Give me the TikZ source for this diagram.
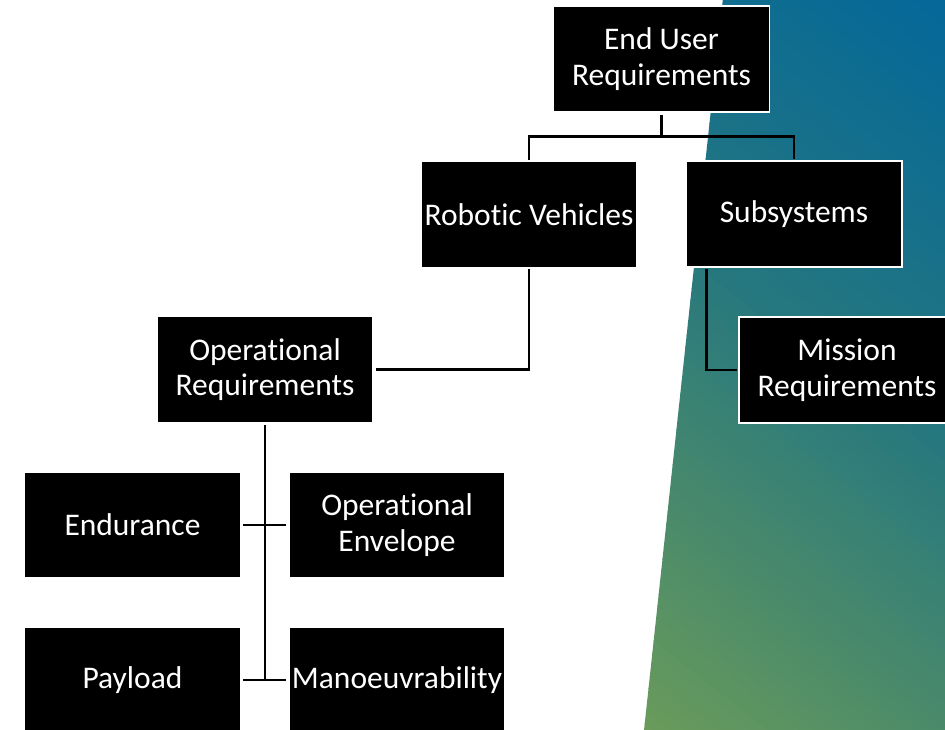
\documentclass[tikz,border=0pt]{standalone}
\usepackage{fontspec}
\setmainfont{Carlito}[Ligatures=NoCommon]
\definecolor{gblue}{HTML}{03679A}
\definecolor{gteal}{HTML}{27787E}
\definecolor{ggreen}{HTML}{6A9B5A}
\tikzset{
  box/.style={draw=white, line width=1.5pt, fill=black, text=white,
    minimum width=216pt, minimum height=106pt, inner sep=0pt, align=center,
    font=\fontsize{31.5}{35.5}\selectfont},
  conn/.style={draw=black, line width=2.8pt}
}
\begin{document}
\begin{tikzpicture}[x=1pt,y=-1pt]
\useasboundingbox (0,0) rectangle (945,729);
\clip (0,0) rectangle (945,729);
\fill[white] (0,0) rectangle (945,729);
% gradient background polygon
\begin{scope}
  \clip (723,-2) -- (950,-2) -- (950,735) -- (643.5,735) -- cycle;
  \foreach \i in {0,...,79}{
    \pgfmathsetmacro\ta{-600+\i*10}
    \pgfmathsetmacro\tb{\ta+11}
    \pgfmathsetmacro\tm{\ta+5}
    \pgfmathparse{\tm<-224 ? 1 : 0}
    \ifnum\pgfmathresult=1
      \pgfmathsetmacro\f{max(0,min(100,(\tm+586)/362*100))}
      \colorlet{bandc}{gteal!\f!gblue}
    \else
      \pgfmathsetmacro\f{max(0,min(100,(\tm+224)/401*100))}
      \colorlet{bandc}{ggreen!\f!gteal}
    \fi
    \fill[bandc] ({\ta*(-0.62)+400*0.79},{\ta*0.79+400*0.62})
      -- ({\ta*(-0.62)+1300*0.79},{\ta*0.79+1300*0.62})
      -- ({\tb*(-0.62)+1300*0.79},{\tb*0.79+1300*0.62})
      -- ({\tb*(-0.62)+400*0.79},{\tb*0.79+400*0.62}) -- cycle;
  }
\end{scope}
% nodes
\node[box] (eur) at (661.5,59) {End User\\Requirements};
\node[box] (rv) at (529,214.5) {Robotic Vehicles};
\node[box] (sub) at (794,214) {Subsystems};
\node[box] (mr) at (847,370) {Mission\\Requirements};
\node[box] (opr) at (265,369.5) {Operational\\Requirements};
\node[box] (end) at (132.5,525) {Endurance};
\node[box] (env) at (397,525) {Operational\\Envelope};
\node[box] (pay) at (132.5,680) {Payload};
\node[box] (man) at (397,680) {Manoeuvrability};
% connectors
\coordinate (top) at ([yshift=-24pt]eur.south);
\draw[conn] ([yshift=-2pt]eur.south) -- (top) -| ([yshift=1pt]rv.north);
\draw[conn] (top) -| ([yshift=1pt]sub.north);
\draw[conn] ([yshift=-1pt]rv.south) |- ([xshift=2pt]opr.east);
\coordinate (subdrop) at ([xshift=21pt,yshift=-1pt]sub.south west);
\draw[conn] (subdrop) |- ([xshift=-1pt]mr.west);
\draw[conn] ([yshift=-2pt]opr.south) -- (opr.south |- pay.east);
\draw[conn] ([xshift=2pt]end.east) -- ([xshift=-2pt]env.west);
\draw[conn] ([xshift=2pt]pay.east) -- ([xshift=-2pt]man.west);
\end{tikzpicture}
\end{document}
